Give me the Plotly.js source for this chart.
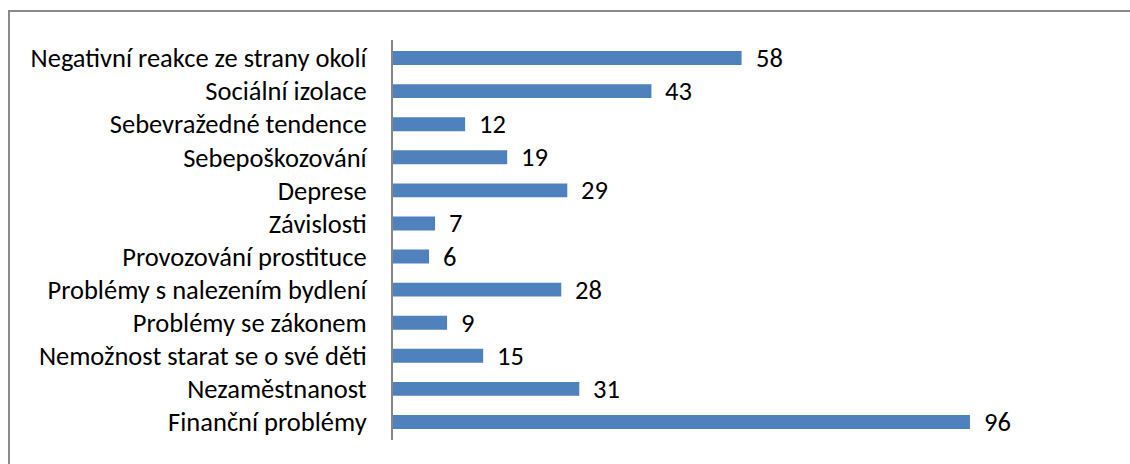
<!DOCTYPE html>
<html>
<head>
<meta charset="utf-8">
<script src="https://cdn.plot.ly/plotly-3.0.1.min.js"></script>
<style>
html,body{margin:0;padding:0;background:#fff;overflow:hidden;}
#wrap{position:relative;width:1130px;height:464px;}
#chart{width:1130px;height:464px;}
#frame{position:absolute;left:8px;top:10px;width:2000px;height:1000px;border-left:2px solid #8a8a8a;border-top:2px solid #8a8a8a;pointer-events:none;}
</style>
</head>
<body>
<div id="wrap"><div id="chart"></div><div id="frame"></div></div>
<script>
const categories = [
  "Negativní reakce ze strany okolí",
  "Sociální izolace",
  "Sebevražedné tendence",
  "Sebepoškozování",
  "Deprese",
  "Závislosti",
  "Provozování prostituce",
  "Problémy s nalezením bydlení",
  "Problémy se zákonem",
  "Nemožnost starat se o své děti",
  "Nezaměstnanost",
  "Finanční problémy"
];
const values = [58, 43, 12, 19, 29, 7, 6, 28, 9, 15, 31, 96];

const FONT = "Carlito, Calibri, Lato, sans-serif";
const FS = 26.5;

const trace = {
  type: "bar",
  orientation: "h",
  x: values,
  y: categories,
  marker: {color: "#4F81BD", line: {width: 0}},
  hoverinfo: "none"
};

const annotations = categories.map((c, i) => ({
  x: values[i], y: c, xref: "x", yref: "y",
  text: String(values[i]), showarrow: false,
  xanchor: "left", yanchor: "middle", xshift: 12,
  font: {family: FONT, size: FS, color: "#000"}
}));

const layout = {
  width: 1130, height: 464,
  margin: {l: 393, r: 136, t: 40, b: 24, pad: 0},
  paper_bgcolor: "#fff", plot_bgcolor: "#fff",
  showlegend: false,
  bargap: 0.58,
  font: {family: FONT, size: FS, color: "#000"},
  xaxis: {range: [0, 100], visible: false, showgrid: false, zeroline: false, fixedrange: true},
  yaxis: {
    type: "category",
    categoryorder: "array", categoryarray: categories,
    autorange: "reversed",
    showline: true, linecolor: "#868686", linewidth: 2,
    ticks: "outside", ticklen: 19, tickcolor: "rgba(0,0,0,0)",
    showgrid: false, zeroline: false,
    tickfont: {family: FONT, size: FS, color: "#000"},
    fixedrange: true
  },
  annotations: annotations
};

Plotly.newPlot("chart", [trace], layout, {staticPlot: true, displayModeBar: false});
</script>
</body>
</html>
